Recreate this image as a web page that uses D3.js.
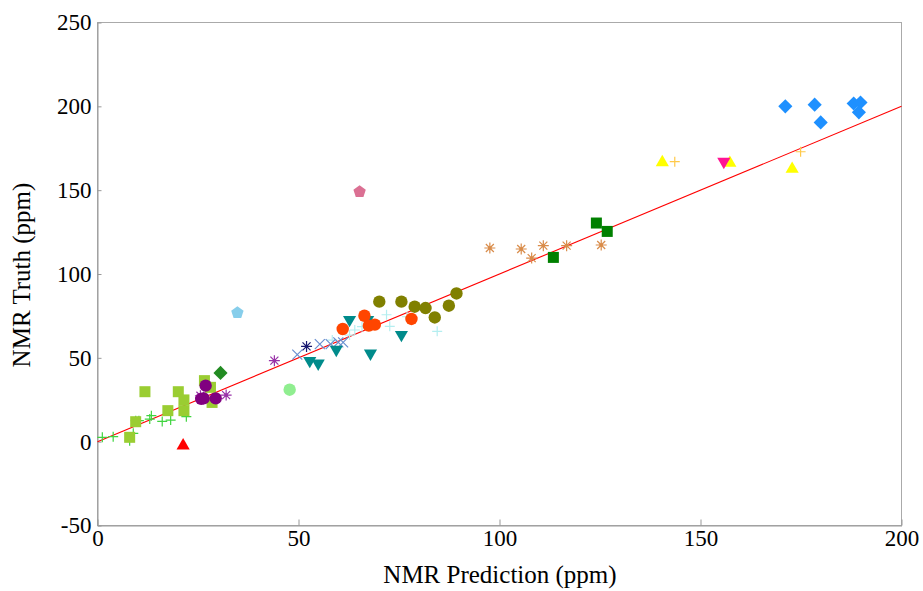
<!DOCTYPE html>
<html>
<head>
<meta charset="utf-8">
<script src="https://cdn.jsdelivr.net/npm/d3@7"></script>
<style>
  body { margin: 0; background: #fff; }
  svg text { font-family: "Liberation Serif", "DejaVu Serif", serif; fill: #000; }
</style>
</head>
<body>
<svg id="chart" width="923" height="591"></svg>
<script>
// data: [prediction, truth]
const limeCross = [[1.2, 2.6], [3.9, 3], [8, 0.6], [8.9, 5], [9.5, 12.5], [10.3, 12.5], [13, 13.5], [13.4, 15.5], [16.1, 12.1], [18.2, 12.9], [22.1, 14.9]];
const yellowGreenSquares = [[11.8, 29.8], [8, 2.6], [9.5, 11.9], [17.5, 18.5], [20.1, 29.8], [21.5, 24.9], [21.5, 18.5], [26.6, 36.4], [28.1, 32.4], [28.5, 23.4]];
const greenDiamond = [[30.6, 41]];
const purpleCircles = [[26.9, 33.4], [25.8, 25.5], [26.4, 25.8], [29.4, 25.8]];
const purpleStars = [[25.6, 27.4], [32, 27.8], [44, 48.3]];
const redTriangle = [[21.3, -2.4]];
const lightGreenCircle = [[47.8, 31]];
const skyPentagon = [[34.8, 76.9]];
const pinkPentagon = [[65.2, 149]];
const navyStar = [[52, 56.8]];
const blueX = [[49.7, 51.9], [55.3, 58.2], [58, 58.2], [59.9, 59.2], [61.1, 59.2]];
const tealDown = [[62.7, 72.7], [67.2, 72.7], [59.4, 54.9], [52.8, 48.3], [54.9, 46.7], [67.9, 52.7], [75.6, 63.8]];
const orangeCircles = [[66.4, 75.1], [61, 67.2], [67.5, 69.2], [69, 69.8], [78.1, 73.2]];
const cyanCross = [[71.9, 75.7], [72.7, 68.8], [64, 66.6], [62.7, 63.6], [77, 74.5], [84.5, 65.8], [58.4, 60.6], [65.8, 68.6]];
const oliveCircles = [[70.1, 83.5], [75.6, 83.5], [78.9, 80.5], [81.6, 79.7], [83.9, 74.1], [87.4, 81.1], [89.3, 88.4]];
const peruStars = [[97.6, 115.5], [105.4, 114.9], [108, 109.5], [110.9, 116.9], [116.7, 116.9], [125.3, 117.3]];
const greenSquares = [[113.4, 109.9], [124.1, 130.4], [126.8, 125.4]];
const yellowTriangles = [[140.5, 166.6], [157.3, 166.2], [172.8, 162.6]];
const goldCross = [[143.6, 167], [174.9, 172.9]];
const pinkDown = [[155.8, 167]];
const blueDiamonds = [[171.1, 200], [178.4, 201], [179.9, 190.4], [188.1, 201.7], [189.8, 202.3], [189.4, 196.4]];

const xTicks = [0, 50, 100, 150, 200];
const yTicks = [-50, 0, 50, 100, 150, 200, 250];
const fitLine = [[0, 0], [200, 200]];

const series = [
  { data: limeCross, color: "#3fd43f", shape: "plus" },
  { data: yellowGreenSquares, color: "#9acd32", shape: "square" },
  { data: greenDiamond, color: "#228b22", shape: "diamond" },
  { data: purpleStars, color: "#9932a8", shape: "star" },
  { data: purpleCircles, color: "#800080", shape: "circle" },
  { data: redTriangle, color: "#ff0000", shape: "up" },
  { data: lightGreenCircle, color: "#90ee90", shape: "circle" },
  { data: skyPentagon, color: "#87ceeb", shape: "pentagon" },
  { data: pinkPentagon, color: "#db7093", shape: "pentagon" },
  { data: cyanCross, color: "#b4eef0", shape: "plus" },
  { data: blueX, color: "#6a8fd0", shape: "x" },
  { data: navyStar, color: "#191970", shape: "star" },
  { data: tealDown, color: "#008b8b", shape: "down" },
  { data: orangeCircles, color: "#ff4500", shape: "circle" },
  { data: oliveCircles, color: "#808000", shape: "circle" },
  { data: peruStars, color: "#d98c4a", shape: "star" },
  { data: greenSquares, color: "#008000", shape: "square" },
  { data: yellowTriangles, color: "#ffff00", shape: "up" },
  { data: goldCross, color: "#ffc94a", shape: "plus" },
  { data: pinkDown, color: "#ff1493", shape: "down" },
  { data: blueDiamonds, color: "#1e90ff", shape: "diamond" }
];

const svg = d3.select("#chart");
const plotLeft = 97.5, plotRight = 901.5, plotTop = 22.5, plotBottom = 525.5;

const x = d3.scaleLinear().domain([0, 200]).range([plotLeft, plotRight]);
const y = d3.scaleLinear().domain([-50, 250]).range([plotBottom, plotTop]);

// frame
svg.append("rect")
  .attr("x", plotLeft).attr("y", plotTop)
  .attr("width", plotRight - plotLeft).attr("height", plotBottom - plotTop)
  .attr("fill", "none").attr("stroke", "#aaa").attr("stroke-width", 1);

const xAxis = svg.append("g")
  .attr("transform", `translate(0,${plotBottom})`)
  .call(d3.axisBottom(x).tickValues(xTicks).tickSize(-6).tickSizeOuter(0).tickPadding(4).tickFormat(d => String(d)));
const yAxis = svg.append("g")
  .attr("transform", `translate(${plotLeft},0)`)
  .call(d3.axisLeft(y).tickValues(yTicks).tickSize(-4).tickSizeOuter(0).tickPadding(6).tickFormat(d => String(d)));

[xAxis, yAxis].forEach(g => {
  g.select(".domain").attr("stroke", "#999");
  g.selectAll(".tick line").attr("stroke", "#999");
  g.selectAll(".tick text").attr("font-size", 23);
});

svg.append("text")
  .attr("x", 500).attr("y", 583)
  .attr("text-anchor", "middle").attr("font-size", 25)
  .text("NMR Prediction (ppm)");
svg.append("text")
  .attr("transform", "translate(30,275) rotate(-90)")
  .attr("text-anchor", "middle").attr("font-size", 25)
  .text("NMR Truth (ppm)");

// y = x reference line
svg.append("path")
  .datum(fitLine)
  .attr("d", d3.line().x(d => x(d[0])).y(d => y(d[1])))
  .attr("stroke", "#ff0000").attr("stroke-width", 1.1).attr("fill", "none");

function pentagon(r) {
  const pts = d3.range(5).map(i => {
    const a = -Math.PI / 2 + i * 2 * Math.PI / 5;
    return [r * Math.cos(a), r * Math.sin(a)];
  });
  return "M" + pts.join("L") + "Z";
}

function drawMark(g, shape, color) {
  switch (shape) {
    case "circle":
      g.append("circle").attr("r", 6.2).attr("fill", color);
      break;
    case "square":
      g.append("rect").attr("x", -5.5).attr("y", -5.5).attr("width", 11).attr("height", 11).attr("fill", color);
      break;
    case "diamond":
      g.append("rect").attr("x", -5).attr("y", -5).attr("width", 10).attr("height", 10)
        .attr("transform", "rotate(45)").attr("fill", color);
      break;
    case "up":
      g.append("path").attr("d", d3.symbol(d3.symbolTriangle, 75)()).attr("fill", color);
      break;
    case "down":
      g.append("path").attr("d", d3.symbol(d3.symbolTriangle, 75)()).attr("transform", "rotate(180)").attr("fill", color);
      break;
    case "pentagon":
      g.append("path").attr("d", pentagon(6.5)).attr("fill", color);
      break;
    case "plus":
      g.append("path").attr("d", "M-5,0H5M0,-5V5").attr("stroke", color).attr("stroke-width", 1.2);
      break;
    case "x":
      g.append("path").attr("d", "M-5,-5L5,5M-5,5L5,-5").attr("stroke", color).attr("stroke-width", 1.2);
      break;
    case "star":
      g.append("path").attr("d", "M-5.5,0H5.5M0,-5.5V5.5M-4,-4L4,4M-4,4L4,-4").attr("stroke", color).attr("stroke-width", 1.2);
      g.append("circle").attr("r", 1.8).attr("fill", color);
      break;
  }
}

series.forEach(s => {
  svg.append("g").selectAll("g")
    .data(s.data)
    .join("g")
    .attr("transform", d => `translate(${x(d[0])},${y(d[1])})`)
    .each(function () { drawMark(d3.select(this), s.shape, s.color); });
});
</script>
</body>
</html>
